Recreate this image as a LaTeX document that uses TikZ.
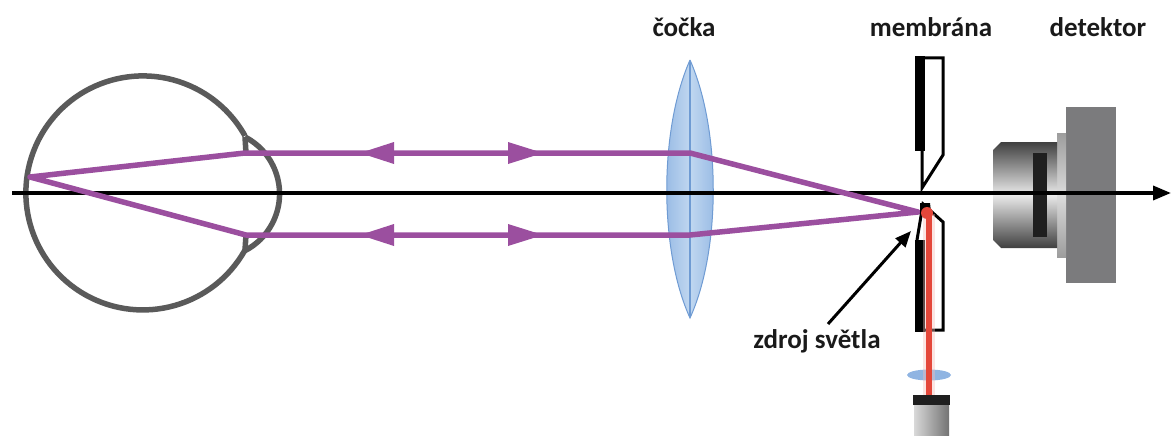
\documentclass[tikz,border=0pt]{standalone}
\usepackage{fontspec}
\setmainfont{Carlito}
\usetikzlibrary{arrows.meta}
\definecolor{raycol}{HTML}{9B4F9F}
\definecolor{eyecol}{HTML}{5A5A5A}
\definecolor{lensedge}{HTML}{6F9BD3}
\definecolor{lensdark}{HTML}{8FB4E2}
\definecolor{lenslight}{HTML}{C0D7F0}
\definecolor{laser}{HTML}{E4473A}
\definecolor{txt}{HTML}{1A1A1A}
\definecolor{body}{HTML}{7B7B7D}
\definecolor{flange}{HTML}{C4C4C4}
\tikzset{
  lbl/.style={font=\fontsize{27}{30}\selectfont\bfseries, text=txt, inner sep=0pt, anchor=base},
  eyeline/.style={draw=eyecol, line width=5.5pt},
  beam/.style={draw=raycol, line width=5.5pt, line join=round},
  raytip/.style={fill=raycol},
  plate/.style={draw=black, line width=3pt, fill=white, line join=miter},
}
\begin{document}
\begin{tikzpicture}[x=1pt,y=-1pt]
\useasboundingbox (0,0) rectangle (1171,436);

% eye: globe and cornea
\draw[eyeline] (245,250) arc[start angle=29.2, end angle=330.8, radius=117];
\draw[eyeline] (245,137) arc[start angle=-62.6, end angle=63, radius=64];
\draw[eyeline] (245,137) -- (246,153);
\draw[eyeline] (246,235) -- (245,250);

% converging lens
\shade[left color=lensdark, right color=lensdark, middle color=lenslight, draw=lensedge, line width=1pt]
  (690,60) .. controls (721,130) and (721,250) .. (690,318)
           .. controls (659,250) and (659,130) .. (690,60);
\draw[lensedge, line width=1.2pt] (690,62) -- (690,316);

% detector
\fill[body] (1066,107) rectangle (1116,283);
\shade[top color=flange!80!black, bottom color=flange!80!black, middle color=flange!60!white] (1057,133) rectangle (1066,257);
\shade[top color=black!75, bottom color=black!75, middle color=black!8]
  (1001,142) -- (1057,142) -- (1057,248) -- (1001,248) -- (993,240) -- (993,150) -- cycle;
\fill[black!88] (1033,153) rectangle (1047,237);

% optical axis
\coordinate (axL) at (12,193);
\coordinate (axR) at (1171,193);
\draw[line width=3.5pt, -{Triangle[length=18pt,width=14pt]}] (axL) -- (axR);

% rays between retina and focus
\coordinate (retina) at (30,177);
\coordinate (cu) at (245,153);
\coordinate (cl) at (246,235);
\coordinate (lu) at (690,153);
\coordinate (ll) at (690,235);
\coordinate (focus) at (918,212);
\draw[beam] (retina) -- (cu) -- (lu) -- (focus) -- (ll) -- (cl) -- cycle;
\foreach \y in {153,235}{
  \fill[raytip] (360,\y) -- (394,\y-11) -- (394,\y+11) -- cycle;
  \fill[raytip] (543,\y) -- (508,\y-11) -- (508,\y+11) -- cycle;
}

% pinhole membrane
\draw[plate] (920,58) -- (943,58) -- (943,155) -- (922,188) -- (922,150) -- cycle;
\fill[black] (915,56.5) rectangle (925,151);
\draw[plate] (923,204) -- (943,222) -- (943,330) -- (917,330) -- (917,240) -- cycle;
\fill[black] (915,240) rectangle (925,331.5);
\fill[black] (920,203) -- (930,203) -- (931,212) -- (920,212) -- cycle;

% light source beam and its small lens
\fill[lensdark] (929,375) ellipse[x radius=22, y radius=5.5];
\draw[laser!35, line width=12pt, opacity=0.4] (929,214) -- (929,396);
\draw[laser, line width=6pt] (929,212) -- (929,396);
\fill[laser] (927,213) circle[radius=6];
\fill[black!88] (913,395) rectangle (950,405);
\shade[left color=black!15, right color=black!55] (914,405) rectangle (949,436);

% labels
\node[lbl] (cocka) at (684,37) {čočka};
\node[lbl] (membrana) at (931,37) {membrána};
\node[lbl] (detektor) at (1098,37) {detektor};
\node[lbl] (zdroj) at (817,348) {zdroj světla};
\coordinate (src) at (911,231);
\draw[line width=3pt, -{Triangle[length=16pt,width=13pt]}] (828,324) -- (src);
\end{tikzpicture}
\end{document}
